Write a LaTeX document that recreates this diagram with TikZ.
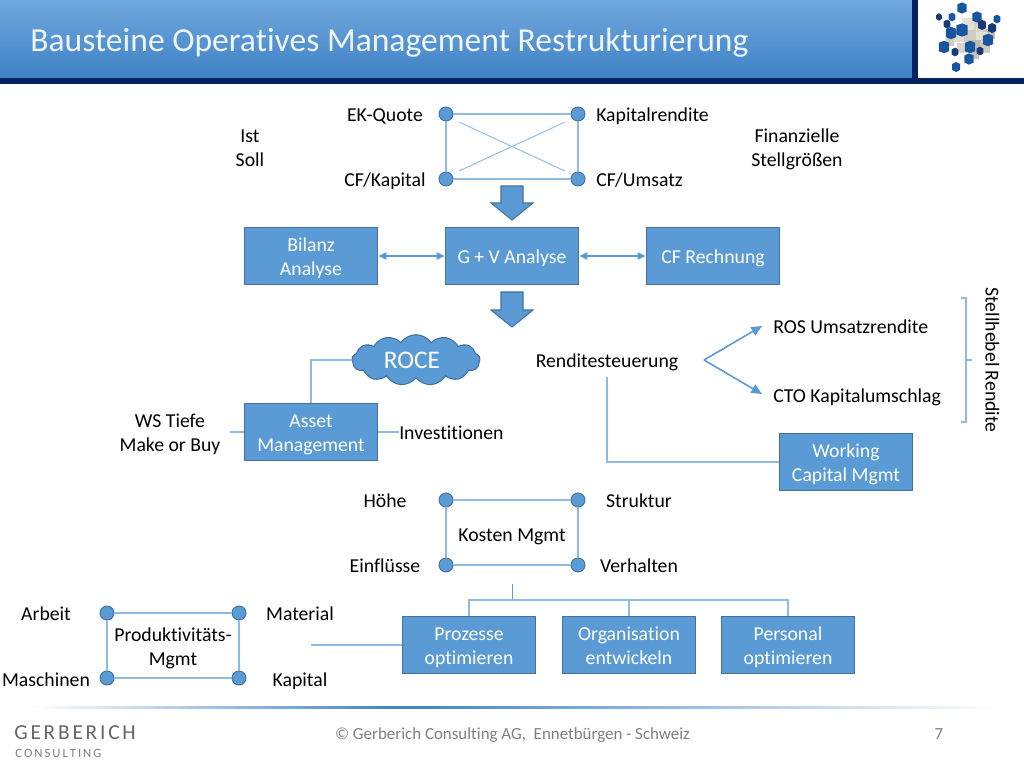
\documentclass[tikz,border=0pt]{standalone}
\usepackage{fontspec}
\setmainfont{Carlito}[Ligatures=NoCommon]
\usetikzlibrary{shapes.symbols,arrows.meta,shapes.arrows}
\definecolor{boxfill}{HTML}{5B9BD5}
\definecolor{boxline}{HTML}{41719C}
\definecolor{conn}{HTML}{8FBAE2}
\definecolor{navy}{HTML}{04225F}
\definecolor{headtop}{HTML}{70A7DD}
\definecolor{headbot}{HTML}{3F82C6}
\definecolor{footgray}{HTML}{7F7F7F}
\newcommand{\topstrut}{\rule{0pt}{17.1pt}}
\newcommand{\twolines}[2]{\topstrut #1\\#2\strut}
\tikzset{
  x=0.75pt,y=-0.75pt,
  oneline/.style={execute at begin node={\topstrut},execute at end node={\strut}},
  bluebox/.style={draw=boxline,line width=1.1pt,fill=boxfill,text=white,minimum width=100pt,minimum height=43pt,inner sep=0pt,align=center,font=\fontsize{14.8}{18}\selectfont},
  lbl/.style={text=black,inner sep=0pt,align=center,font=\fontsize{14.8}{18}\selectfont},
  dot/.style={circle,draw=boxline,line width=0.7pt,fill=boxfill,minimum size=10.5pt,inner sep=0pt},
  link/.style={draw=conn,line width=0.85pt},
  crosslink/.style={draw=conn,line width=0.7pt},
  stem/.style={draw=boxfill,line width=0.7pt},
  dblarrow/.style={draw=boxfill,line width=1pt,{Triangle[length=6pt,width=5.5pt]}-{Triangle[length=6pt,width=5.5pt]}},
  sarrow/.style={draw=boxfill,line width=1.2pt,-{Triangle[length=8pt,width=7pt]}},
  bigarrow/.style={draw=boxline,line width=0.8pt,fill=boxfill},
}
\begin{document}
\begin{tikzpicture}
\useasboundingbox (0,0) rectangle (1024,768);
\fill[white] (0,0) rectangle (1024,768);
% header
\shade[top color=headtop,bottom color=headbot] (0,0) rectangle (912,78);
\fill[navy] (912,0) rectangle (918,84);
\fill[navy] (0,78) rectangle (1024,84);
\node[anchor=west,inner sep=0pt,text=white!88!headtop,font=\fontsize{25.2}{28}\selectfont] (title) at (30,43) {Bausteine Operatives Management Restrukturierung};
% icon: grey core
\foreach \x/\y/\s/\c in {
 968/24/6/E4E0D8, 980/26/6/D8D4CC, 990/34/5/C4C0B8, 958/36/6/E0DCD4, 970/36/6/CFCAC2, 982/38/6/E4E0D8, 962/48/5/D8D4CC, 975/46/6/BDB8B0, 985/48/5/D0CCC4, 975/55/4/C8C4BC, 950/42/4/D0CCC4}{
  \definecolor{tmpc}{HTML}{\c}
  \fill[tmpc] (\x-\s,\y-\s) rectangle (\x+\s,\y+\s);
}
% icon: blue cubes
\foreach \x/\y/\s/\c in {
 962/8/4.6/1A56A0, 939/17/2.8/143A78, 952/17/3.4/1A56A0, 977/17/4.6/1A56A0, 997/19/3.4/1A56A0, 947/24/3.4/143A78, 951/33/5.2/1A56A0, 962/30/5.6/1A56A0, 982/25/4/143A78, 992/28/4/143A78,
 988/40/5.2/1A56A0, 944/47/5.2/1A56A0, 955/52/3.4/143A78, 970/47/5.2/1A56A0, 980/51/3.4/143A78, 969/59/4.6/1A56A0, 956/67/4/1A56A0}{
  \definecolor{tmpc}{HTML}{\c}
  \fill[tmpc] (\x-\s,\y-\s+1) -- (\x,\y-\s-1) -- (\x+\s,\y-\s+1) -- (\x+\s,\y+\s-1) -- (\x,\y+\s+1) -- (\x-\s,\y+\s-1) -- cycle;
}
% top rectangle
\node[dot] (a1) at (446,114) {};
\node[dot] (a2) at (578,114) {};
\node[dot] (a3) at (446,179) {};
\node[dot] (a4) at (578,179) {};
\draw[link] (a1) -- (a2); \draw[link] (a2) -- (a4); \draw[link] (a4) -- (a3); \draw[link] (a3) -- (a1);
\coordinate (x1) at (459,122); \coordinate (x2) at (565,171); \coordinate (x3) at (459,171); \coordinate (x4) at (565,122);
\draw[crosslink] (x1) -- (x2); \draw[crosslink] (x3) -- (x4);
\node[lbl,oneline] (ek) at (385,114) {EK-Quote};
\node[lbl,oneline,anchor=west] (kr) at (596,114) {Kapitalrendite};
\node[lbl,oneline] (cfk) at (385,179) {CF/Kapital};
\node[lbl,oneline,anchor=west] (cfu) at (596,179) {CF/Umsatz};
\node[lbl] (ist) at (250,147) {\twolines{Ist}{Soll}};
\node[lbl] (fin) at (797,147) {\twolines{Finanzielle}{Stellgrößen}};
% big arrows
\draw[bigarrow] (501,186) -- (523,186) -- (523,203) -- (533,203) -- (512,220) -- (491,203) -- (501,203) -- cycle;
\draw[bigarrow] (501,292) -- (523,292) -- (523,310) -- (533,310) -- (512,327) -- (491,310) -- (501,310) -- cycle;
% row
\node[bluebox] (bil) at (311,256) {\twolines{Bilanz}{Analyse}};
\node[bluebox,oneline] (guv) at (512,256) {G + V Analyse};
\node[bluebox,oneline] (cfr) at (713,256) {CF Rechnung};
\draw[dblarrow] (bil) -- (guv);
\draw[dblarrow] (guv) -- (cfr);
% ROCE
\node[cloud,cloud puffs=13,cloud puff arc=110,aspect=2.6,draw=boxline,line width=0.8pt,fill=boxfill,minimum width=96pt,minimum height=38pt,inner sep=0pt] (roce) at (416,360) {};
\node[text=white,inner sep=0pt,font=\fontsize{19}{22}\selectfont] (rocet) at (412,360) {ROCE};
\node[bluebox] (asset) at (311,432) {\twolines{Asset}{Management}};
\draw[link] (asset.north) |- (roce.west);
\node[lbl] (ws) at (170,432) {\twolines{WS Tiefe}{Make or Buy}};
\node[lbl,oneline,anchor=west] (inv) at (399,432) {Investitionen};
\coordinate (wsr) at (230,432);
\draw[link] (wsr) -- (asset.west);
\draw[link] (asset.east) -- (inv.west);
% Rendite
\node[lbl,oneline] (rend) at (607,360) {Renditesteuerung};
\coordinate (fork) at (704,360);
\node[lbl,oneline,anchor=west] (ros) at (773,326) {ROS Umsatzrendite};
\node[lbl,oneline,anchor=west] (cto) at (773,395) {CTO Kapitalumschlag};
\coordinate (rosa) at (762,326); \coordinate (ctoa) at (762,394);
\draw[sarrow] (fork) -- (rosa);
\draw[sarrow] (fork) -- (ctoa);
\node[bluebox] (wc) at (846,462) {\twolines{Working}{Capital Mgmt}};
\coordinate (rendb) at (607,377);
\draw[link] (rendb) |- (wc.west);
% bracket
\coordinate (b1) at (961,298); \coordinate (b2) at (966,298); \coordinate (b3) at (966,422); \coordinate (b4) at (961,422);
\coordinate (b5) at (966,360); \coordinate (b6) at (972,360);
\draw[link] (b1) -- (b2) -- (b3) -- (b4);
\draw[link] (b5) -- (b6);
\node[lbl,oneline,rotate=-90] (stell) at (993.5,360) {Stellhebel Rendite};
% Kosten
\node[dot] (k1) at (446,500) {};
\node[dot] (k2) at (578,500) {};
\node[dot] (k3) at (446,565) {};
\node[dot] (k4) at (578,565) {};
\draw[link] (k1) -- (k2); \draw[link] (k2) -- (k4); \draw[link] (k4) -- (k3); \draw[link] (k3) -- (k1);
\node[lbl,oneline] (km) at (512,534) {Kosten Mgmt};
\node[lbl,oneline] (ho) at (385,500) {Höhe};
\node[lbl,oneline] (st) at (639,500) {Struktur};
\node[lbl,oneline] (ei) at (385,565) {Einflüsse};
\node[lbl,oneline] (ve) at (639,565) {Verhalten};
% bottom boxes
\node[bluebox] (pro) at (469,645) {\twolines{Prozesse}{optimieren}};
\node[bluebox] (org) at (629,645) {\twolines{Organisation}{entwickeln}};
\node[bluebox] (per) at (788,645) {\twolines{Personal}{optimieren}};
\coordinate (t0) at (512,584); \coordinate (t1) at (512,600);
\draw[stem] (t0) -- (t1);
\draw[link] (pro.north) |- (t1);
\draw[link] (t1) -| (org.north);
\draw[link] (t1) -| (per.north);
% Produktivitaet
\node[dot] (p1) at (107,613) {};
\node[dot] (p2) at (239,613) {};
\node[dot] (p3) at (107,678) {};
\node[dot] (p4) at (239,678) {};
\draw[link] (p1) -- (p2); \draw[link] (p2) -- (p4); \draw[link] (p4) -- (p3); \draw[link] (p3) -- (p1);
\node[lbl] (pm) at (173,646) {\twolines{Produktivitäts-}{Mgmt}};
\node[lbl,oneline] (ar) at (46,613) {Arbeit};
\node[lbl,oneline] (ma) at (46,679) {Maschinen};
\node[lbl,oneline] (mt) at (300,613) {Material};
\node[lbl,oneline] (ka) at (300,679) {Kapital};
\coordinate (pl) at (311,645);
\draw[link] (pl) -- (pro.west);
% footer
\shade[left color=white,right color=headbot] (30,706.5) rectangle (400,708);
\shade[left color=headbot,right color=white] (400,706.5) rectangle (1000,708);
\node[anchor=west,inner sep=0pt,text=black!60,font=\fontsize{16}{18}\selectfont] (g1) at (14,733) {G\kern2.1pt E\kern2.1pt R\kern2.1pt B\kern2.1pt E\kern2.1pt R\kern2.1pt I\kern2.1pt C\kern2.1pt H};
\node[anchor=west,inner sep=0pt,text=black!50,font=\fontsize{9.5}{12}\selectfont] (g2) at (15,753) {C\kern1.5pt O\kern1.5pt N\kern1.5pt S\kern1.5pt U\kern1.5pt L\kern1.5pt T\kern1.5pt I\kern1.5pt N\kern1.5pt G};
\node[text=footgray,inner sep=0pt,font=\fontsize{12.7}{14}\selectfont] (copy) at (512.5,735.5) {© Gerberich Consulting AG,\ \ Ennetbürgen - Schweiz};
\node[text=footgray,inner sep=0pt,font=\fontsize{12.7}{14}\selectfont] (num) at (939,734) {7};
\end{tikzpicture}
\end{document}
